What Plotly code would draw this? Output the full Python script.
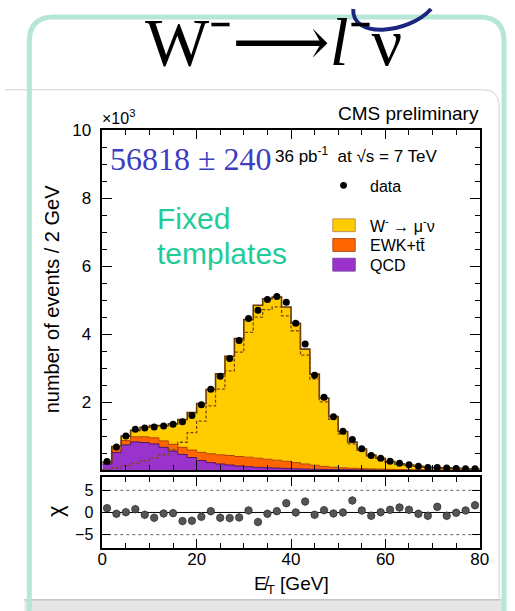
import numpy as np
import plotly.graph_objects as go

# ---------------- data (thousands of events per 2 GeV bin) ----------------
bin_edges = list(range(0, 82, 2))
bin_centers = [e + 1 for e in bin_edges[:-1]]

data_k = [0.25, 0.68, 1.00, 1.20, 1.24, 1.27, 1.30, 1.35, 1.42, 1.61,
          1.92, 2.38, 2.76, 3.28, 3.81, 4.46, 4.70, 5.02, 5.11, 4.94,
          4.32, 3.71, 2.79, 2.14, 1.57, 1.14, 0.90, 0.63, 0.43, 0.35,
          0.26, 0.20, 0.16, 0.11, 0.08, 0.08, 0.06, 0.05, 0.04, 0.04]

qcd_k = [0.18, 0.52, 0.74, 0.83, 0.81, 0.77, 0.67, 0.56, 0.46, 0.37,
         0.28, 0.22, 0.18, 0.15, 0.12, 0.10, 0.08, 0.07, 0.06, 0.05,
         0.04, 0.03, 0.025, 0.02, 0.015, 0.012, 0.01, 0.008, 0.006, 0.005,
         0.004, 0.003, 0.003, 0.002, 0.002, 0.001, 0.001, 0.001, 0.001, 0.001]

ewk_k = [0.04, 0.10, 0.13, 0.15, 0.17, 0.18, 0.19, 0.20, 0.21, 0.22,
         0.24, 0.26, 0.27, 0.28, 0.28, 0.28, 0.27, 0.25, 0.23, 0.21,
         0.18, 0.15, 0.12, 0.09, 0.07, 0.055, 0.045, 0.035, 0.03, 0.025,
         0.02, 0.016, 0.013, 0.01, 0.008, 0.007, 0.006, 0.005, 0.004, 0.003]

wmunu_k = [0.015, 0.07, 0.13, 0.19, 0.28, 0.36, 0.45, 0.60, 0.82, 1.10,
           1.44, 1.89, 2.38, 2.92, 3.47, 4.05, 4.50, 4.72, 4.80, 4.54,
           4.10, 3.38, 2.68, 2.01, 1.49, 1.07, 0.77, 0.58, 0.41, 0.32,
           0.23, 0.165, 0.135, 0.10, 0.075, 0.062, 0.058, 0.045, 0.035, 0.028]

chi = [0.97, -0.30, 0.07, 0.75, -0.52, -1.20, -0.22, -0.15, -1.94, -1.87,
       -0.97, 0.30, -1.20, -1.27, -1.12, 0.45, -2.16, -0.30, 0.30, 2.10,
       0.00, 2.46, -0.52, 0.52, -0.22, 0.00, 2.70, 0.45, -0.75, 0.07,
       0.60, 1.12, 0.60, -0.30, -0.75, 1.27, -0.75, -0.07, 0.45, 1.64]
chi_err = [1.0] * len(chi)

x_ticks = [0, 20, 40, 60, 80]
y_ticks = [2, 4, 6, 8, 10]
chi_ticks = [-5, 0, 5]

# ---------------- helpers ----------------
W, H = 515, 611
def px(x): return x / W
def py(y): return 1 - y / H

def step(vals):
    return list(vals) + [vals[-1]]

q = np.array(qcd_k)
qe = q + np.array(ewk_k)
tot = qe + np.array(wmunu_k)

SANS = "Liberation Sans, Arial, Helvetica, sans-serif"
SERIF = "Liberation Serif, Times New Roman, serif"

fig = go.Figure()
fig.add_trace(go.Scatter(x=bin_edges, y=step(q), mode="lines", line_shape="hv",
                         fill="tozeroy", fillcolor="#9933cc",
                         line=dict(color="#4b1070", width=1), xaxis="x", yaxis="y"))
fig.add_trace(go.Scatter(x=bin_edges, y=step(qe), mode="lines", line_shape="hv",
                         fill="tonexty", fillcolor="#ff6600",
                         line=dict(color="#b34000", width=1), xaxis="x", yaxis="y"))
fig.add_trace(go.Scatter(x=bin_edges, y=step(tot), mode="lines", line_shape="hv",
                         fill="tonexty", fillcolor="#ffcc00",
                         line=dict(color="#6b3a00", width=1.6), xaxis="x", yaxis="y"))
fig.add_trace(go.Scatter(x=bin_edges, y=step(wmunu_k), mode="lines", line_shape="hv",
                         line=dict(color="#7a4a12", width=1.3, dash="3px,2px"),
                         xaxis="x", yaxis="y"))
fig.add_trace(go.Scatter(x=bin_centers, y=data_k, mode="markers",
                         marker=dict(color="black", size=7),
                         xaxis="x", yaxis="y"))
# chi panel
fig.add_trace(go.Scatter(x=bin_centers, y=chi, mode="markers",
                         marker=dict(color="#555555", size=7.5, line=dict(color="#222", width=0.6)),
                         error_y=dict(type="data", array=chi_err, color="#aaaaaa",
                                      thickness=1.2, width=0),
                         xaxis="x2", yaxis="y2"))

axis_common = dict(showline=True, linecolor="black", linewidth=1.5, mirror="ticks",
                   ticks="inside", tickcolor="black", tickwidth=1.2, showgrid=False,
                   zeroline=False)

fig.update_layout(
    width=W, height=H, margin=dict(l=0, r=0, t=0, b=0),
    paper_bgcolor="white", plot_bgcolor="white", showlegend=False,
    xaxis=dict(domain=[px(100), px(488)], range=[0, 80], anchor="y",
               tickvals=x_ticks, showticklabels=False, ticklen=9,
               minor=dict(dtick=5, tick0=0, ticklen=5, ticks="inside", tickcolor="black"),
               **axis_common),
    yaxis=dict(domain=[py(468), py(123)], range=[0, 10], anchor="x",
               tickvals=y_ticks, ticklen=10, ticklabelstandoff=6,
               tickfont=dict(family=SANS, size=17, color="black"),
               minor=dict(dtick=0.5, tick0=0, ticklen=5, ticks="inside", tickcolor="black"),
               **axis_common),
    xaxis2=dict(domain=[px(100), px(488)], range=[0, 80], anchor="y2",
                tickvals=x_ticks, ticklen=9, ticklabelstandoff=-5,
                tickfont=dict(family=SANS, size=17, color="black"),
                minor=dict(dtick=5, tick0=0, ticklen=5, ticks="inside", tickcolor="black"),
                **axis_common),
    yaxis2=dict(domain=[py(547), py(475)], range=[-8, 8], anchor="x2",
                tickvals=chi_ticks, ticklen=8, ticklabelstandoff=4,
                tickfont=dict(family=SANS, size=16, color="black"),
                **axis_common),
)

shapes = []
# chi reference lines
for yv, dash, col in [(5, "dot", "#666"), (-5, "dot", "#666"), (0, "solid", "black")]:
    shapes.append(dict(type="line", xref="x2", yref="y2", x0=0, x1=80, y0=yv, y1=yv,
                       line=dict(color=col, width=1, dash=dash), layer="below"))

def path_px(cmds):
    out = []
    for c in cmds:
        if isinstance(c, str):
            out.append(c)
        else:
            out.append(f"{px(c[0]):.5f},{py(c[1]):.5f}")
    return " ".join(out)

# slide decorations
shapes.append(dict(type="path", xref="paper", yref="paper",
                   path=path_px(["M", (0, 82), "L", (492, 82), "Q", (507, 82), (508, 97), "L", (508, 598)]),
                   line=dict(color="#d2d2d2", width=1)))
shapes.append(dict(type="rect", xref="paper", yref="paper",
                   x0=px(20), x1=px(515), y0=py(611), y1=py(599),
                   fillcolor="#e6e6e6", line=dict(width=0)))
shapes.append(dict(type="line", xref="paper", yref="paper",
                   x0=px(20), x1=px(510), y0=py(599.5), y1=py(599.5),
                   line=dict(color="#c4c4c4", width=1.5)))
shapes.append(dict(type="path", xref="paper", yref="paper",
                   path=path_px(["M", (25, 640), "L", (25, 33), "Q", (25, 8), (50, 8),
                                 "L", (488, 8), "Q", (513, 8), (513, 33), "L", (513, 640)]),
                   line=dict(color="#b6e6d4", width=5)))
shapes.append(dict(type="path", xref="paper", yref="paper",
                   path=path_px(["M", (358, 0), "C", (356, 30), (414, 26), (438, 0)]),
                   line=dict(color="#1c2680", width=4)))

# legend boxes
for y0, y1, fc, lc in [(213, 226, "#ffcc00", "#c09050"), (233, 246, "#ff6600", "#b05020"),
                       (253, 266, "#9933cc", "#7a40a0")]:
    shapes.append(dict(type="rect", xref="paper", yref="paper",
                       x0=px(337), x1=px(360), y0=py(y1), y1=py(y0),
                       fillcolor=fc, line=dict(color=lc, width=1)))
shapes.append(dict(type="circle", xref="paper", yref="paper",
                   x0=px(344.5), x1=px(351.5), y0=py(182.5), y1=py(175.5),
                   fillcolor="black", line=dict(width=0)))
fig.update_layout(shapes=shapes)

def ann(text, x, y, size, family=SANS, color="black", xanchor="center",
        yanchor="middle", angle=0):
    fig.add_annotation(text=text, x=px(x), y=py(y), xref="paper", yref="paper",
                       showarrow=False, xanchor=xanchor, yanchor=yanchor,
                       textangle=angle, font=dict(family=family, size=size, color=color))

ann("W\u207b<span style='font-family:DejaVu Serif'>\u27f6</span><i>l</i>\u207b\u03bd",
    276, -9, 68, family=SERIF, yanchor="top")
ann("CMS preliminary", 489, 106, 19, xanchor="right")
ann("\u00d710<sup>3</sup>", 98, 110, 16, xanchor="left")
ann("56818 \u00b1 240", 106, 152, 32, family=SERIF, color="#3d3dc0", xanchor="left")
ann("36 pb<sup>-1</sup>  at \u221as = 7 TeV", 276, 148, 17, xanchor="left")
ann("Fixed", 154, 213, 30, color="#1fcc98", xanchor="left")
ann("templates", 154, 248, 30, color="#1fcc98", xanchor="left")
ann("data", 373, 180, 16, xanchor="left")
ann("W<sup>-</sup> \u2192 \u03bc<sup>-</sup>\u03bd", 373, 219, 16, xanchor="left")
ann("EWK+t\u0074\u0304", 373, 240, 16, xanchor="left")
ann("QCD", 373, 260, 16, xanchor="left")
ann("number of events / 2 GeV", 48, 294, 20, angle=-90)
ann("\u03c7", 52, 510, 22, angle=-90)
ann("E\u0338<sub>T</sub> [GeV]", 294, 585, 19)

fig.write_html("out.html")
